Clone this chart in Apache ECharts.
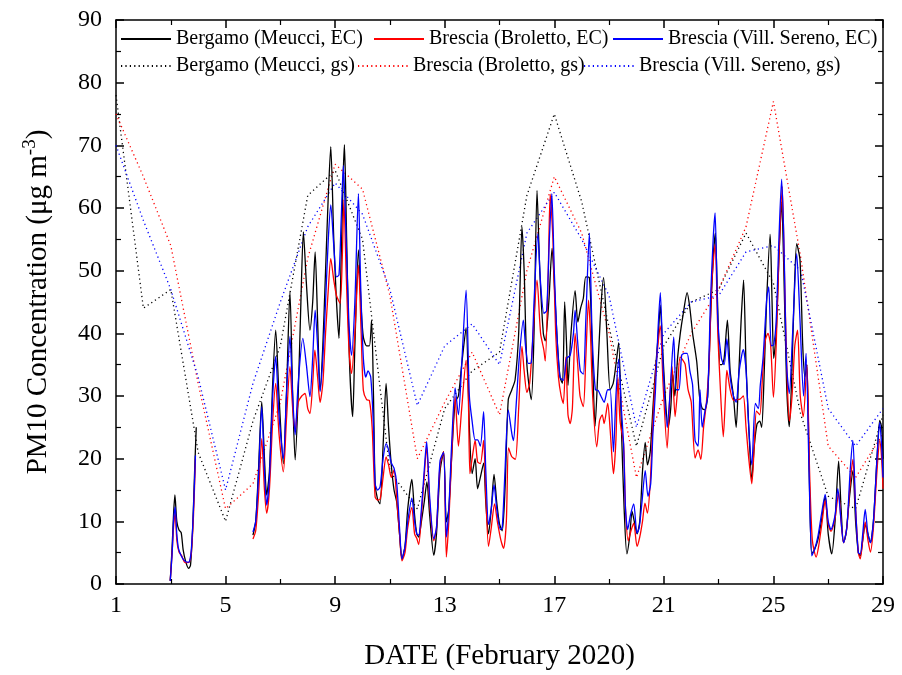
<!DOCTYPE html>
<html>
<head>
<meta charset="utf-8">
<script src="https://cdn.jsdelivr.net/npm/echarts@6/dist/echarts.min.js"></script>
<style>html,body{margin:0;padding:0;background:#fff}#c{width:902px;height:675px}</style>
</head>
<body>
<div id="c"></div>
<script>
// ---- data ----
const seriesNames = ['Bergamo (Meucci, EC)','Brescia (Broletto, EC)','Brescia (Vill. Sereno, EC)',
                     'Bergamo (Meucci, gs)','Brescia (Broletto, gs)','Brescia (Vill. Sereno, gs)'];
const xTicks = [1,5,9,13,17,21,25,29];
const yTicks = [0,10,20,30,40,50,60,70,80,90];

// daily gravimetric (gs) values, one per day 1..29
const gsDays = [1,2,3,4,5,6,7,8,9,10,11,12,13,14,15,16,17,18,19,20,21,22,23,24,25,26,27,28,29];
const gsBergamo = [78,44,47,21,10,26,38,62,66,55,18,12,28,34,37,62,75,61,41,22,38,45,47,56,48,27,14,12,27];
const gsBroletto = [75,65,54,32,12,16,29,52,67,63,46,20,29,37,27,50,65,56,40,17,30,40,47,57,77,52,22,17,24];
const gsSereno = [70,58,47,33,15,32,45,57,64,59,47,28.5,38,41.5,35,56,62.5,55,46,25,40,45,46,53,54,50,28,22,28];

// hourly EC-derived PM10 [day, value]
const ecBergamo = [[2.98,0.5],[3.05,6],[3.1,11],[3.15,14.2],[3.22,10],[3.3,8.6],[3.38,8.2],[3.45,5.5],[3.55,3.5],[3.65,2.5],[3.72,3],[3.8,9],[3.87,18],[3.93,25],[4.5,'-'],
[6.0,7.8],[6.1,10],[6.2,18],[6.32,29.1],[6.42,20],[6.5,14.2],[6.6,18],[6.72,32],[6.83,40.5],[6.95,30],[7.11,19.2],[7.22,30],[7.35,46.6],[7.45,30],[7.54,19.8],[7.65,30],[7.75,45],[7.84,56.2],[7.95,48],[8.08,40.5],[8.18,45],[8.27,53],[8.36,42],[8.45,30.9],[8.55,38],[8.65,50],[8.75,62],[8.84,69.8],[8.95,55],[9.05,45],[9.14,39.2],[9.22,52],[9.3,66],[9.34,70.1],[9.42,55],[9.52,36],[9.64,26.7],[9.72,38],[9.85,53.3],[9.95,44],[10.03,39.4],[10.15,38],[10.25,38],[10.33,42.1],[10.4,30],[10.46,16],[10.55,13.5],[10.64,12.8],[10.75,22],[10.86,32],[10.95,25],[11.05,19],[11.15,15],[11.25,13],[11.35,8],[11.44,4],[11.55,6],[11.65,12],[11.8,16.7],[11.9,11],[11.98,8],[12.05,7.5],[12.15,10],[12.25,13],[12.35,16.3],[12.45,11],[12.6,4.6],[12.7,8],[12.83,18],[12.96,21.1],[13.06,9.9],[13.15,12],[13.25,20],[13.38,29],[13.5,30],[13.62,35],[13.78,40.9],[13.9,25],[14.0,17.6],[14.11,20],[14.2,15.2],[14.3,17],[14.42,19.3],[14.5,13],[14.6,8],[14.7,12],[14.8,17.5],[14.9,13],[15.0,9.6],[15.1,8.5],[15.2,15],[15.32,29.4],[15.45,31],[15.57,32.6],[15.7,40],[15.82,57],[15.9,50],[16.0,35],[16.16,29.4],[16.26,40],[16.37,62.8],[16.47,50],[16.6,40],[16.67,38.8],[16.8,45],[16.92,53.6],[17.0,48],[17.1,39.4],[17.21,33],[17.3,32],[17.38,45],[17.45,38],[17.5,31.7],[17.6,39.4],[17.76,46.8],[17.86,41.8],[17.96,44],[18.06,45.6],[18.15,49],[18.28,48.9],[18.38,38],[18.49,25.2],[18.6,35],[18.7,44],[18.8,48.9],[18.92,40],[19.04,31],[19.15,32],[19.25,35],[19.35,38.5],[19.45,25],[19.55,12],[19.65,4.8],[19.75,7.5],[19.84,11.6],[19.92,10],[20.02,8],[20.12,10],[20.22,18],[20.32,22.6],[20.4,19],[20.5,21],[20.6,28],[20.69,34],[20.8,40],[20.87,44.5],[20.95,38],[21.05,30],[21.15,25],[21.25,28],[21.32,33.6],[21.4,30],[21.5,36],[21.6,40],[21.71,43.2],[21.85,46.5],[21.95,44],[22.05,40],[22.2,35.5],[22.3,30],[22.4,28],[22.5,27.8],[22.6,30],[22.7,42],[22.8,52],[22.88,56],[22.96,45],[23.05,35],[23.12,35],[23.2,36],[23.32,42.1],[23.42,34],[23.54,30],[23.64,25],[23.72,32],[23.82,42],[23.91,48.5],[24.0,35],[24.1,25],[24.21,16.7],[24.3,22],[24.4,25.5],[24.5,26],[24.57,25],[24.65,32],[24.75,45],[24.88,55.8],[24.95,45],[25.01,36],[25.1,40],[25.2,52],[25.3,61],[25.38,50],[25.48,32],[25.58,25.1],[25.66,32],[25.75,45],[25.85,54.3],[25.97,51.7],[26.07,38],[26.15,33],[26.22,35],[26.32,15],[26.4,4.8],[26.5,5.5],[26.62,7],[26.75,10],[26.89,14],[27.0,8],[27.13,4.8],[27.25,10],[27.38,19.6],[27.47,12],[27.56,6.6],[27.65,8],[27.78,14],[27.9,18.1],[28.0,10],[28.1,5],[28.17,4.5],[28.26,7],[28.35,9.5],[28.45,8],[28.54,6.6],[28.65,10],[28.78,20],[28.88,26.1],[28.95,25],[29.0,20]];

const ecBroletto = [[2.98,0.5],[3.05,5],[3.1,9],[3.16,11.3],[3.22,7],[3.3,5.1],[3.4,4.5],[3.5,3.5],[3.6,3.4],[3.68,3.5],[3.75,5],[3.83,11],[3.9,19.9],[4.5,'-'],
[6.0,7.2],[6.1,8.5],[6.2,14],[6.32,23.2],[6.42,15],[6.5,11.3],[6.6,15],[6.72,26],[6.83,32],[6.95,24],[7.11,17.9],[7.22,26],[7.35,34.7],[7.45,28],[7.54,24.3],[7.65,29],[7.78,30],[7.9,30.4],[8.0,28],[8.08,27.2],[8.18,32],[8.26,37.3],[8.36,33],[8.45,29],[8.55,32],[8.65,40],[8.75,47],[8.84,51.9],[8.95,48.5],[9.05,46],[9.18,44.8],[9.26,52],[9.32,61.3],[9.4,50],[9.5,38],[9.6,33.6],[9.72,40],[9.85,50.9],[9.95,40],[10.03,30.9],[10.15,29.4],[10.25,29.3],[10.35,25],[10.46,13.9],[10.55,13.4],[10.64,13.5],[10.75,17],[10.86,20.3],[10.95,19],[11.05,17],[11.15,18.2],[11.25,13.4],[11.35,8],[11.44,3.7],[11.55,5],[11.65,9],[11.8,12.2],[11.9,8],[11.98,7.3],[12.05,6.3],[12.15,11],[12.25,17],[12.34,21.9],[12.45,13],[12.6,6.9],[12.7,9],[12.83,19],[12.96,21.1],[13.06,4.3],[13.15,10],[13.25,20],[13.38,29.9],[13.5,22],[13.62,28],[13.78,35.7],[13.86,30],[13.92,17.6],[14.0,20],[14.11,22.9],[14.2,19.5],[14.3,19.2],[14.42,22.9],[14.5,14],[14.6,6],[14.7,9],[14.82,12.8],[14.92,10],[15.05,7],[15.15,5.7],[15.25,10],[15.33,21.7],[15.45,20.3],[15.58,19.9],[15.7,28],[15.82,37.9],[15.9,34],[16.0,30.6],[16.1,32],[16.2,38],[16.37,48.5],[16.5,40],[16.62,37.3],[16.67,35.6],[16.78,50],[16.85,62.2],[16.95,55],[17.05,40],[17.15,33.1],[17.25,30],[17.33,28.8],[17.42,36.2],[17.5,27],[17.58,25.6],[17.66,28],[17.76,40],[17.85,35.3],[17.94,30],[18.06,28.3],[18.15,36],[18.25,45.3],[18.32,40],[18.4,30],[18.55,21.9],[18.65,26],[18.75,27],[18.82,25.6],[18.95,28.8],[19.04,24.6],[19.16,17.6],[19.25,23],[19.32,33],[19.4,26],[19.53,22.3],[19.6,12],[19.7,6.9],[19.8,8.5],[19.9,9.7],[20.02,6],[20.12,7.5],[20.22,10],[20.31,12.9],[20.4,11.3],[20.5,16],[20.6,25.8],[20.72,35],[20.87,41.2],[20.97,32],[21.12,21.7],[21.22,30],[21.3,34.7],[21.41,26.7],[21.5,31],[21.59,36.2],[21.7,35.7],[21.78,35],[21.88,31.1],[22.0,29],[22.14,20.1],[22.25,21.4],[22.35,19.9],[22.45,25],[22.55,28.8],[22.65,35],[22.75,48],[22.87,54.2],[22.97,40],[23.05,32.3],[23.17,23.5],[23.25,30],[23.3,34.1],[23.42,31],[23.54,29.3],[23.64,29.4],[23.78,29.5],[23.9,30],[24.0,25],[24.1,20],[24.21,16],[24.3,22],[24.38,27.6],[24.5,27],[24.6,33],[24.7,38.8],[24.8,40],[24.9,38],[25.0,29.8],[25.1,38],[25.2,52],[25.32,63.4],[25.4,50],[25.5,33],[25.58,26],[25.68,30],[25.78,38],[25.88,40.5],[25.98,30],[26.09,26.7],[26.22,35],[26.32,18],[26.42,7],[26.56,4.3],[26.65,6],[26.78,10],[26.89,13.4],[27.0,9.5],[27.1,8.4],[27.25,10.5],[27.38,14.6],[27.47,10],[27.56,6.6],[27.68,9],[27.8,16],[27.9,19.9],[28.0,12],[28.1,5],[28.17,4],[28.26,7],[28.35,9.9],[28.45,7],[28.54,5.1],[28.65,9],[28.78,18],[28.88,22.9],[28.95,20],[29.0,15.2]];

const ecSereno = [[2.98,0.5],[3.05,5],[3.1,10],[3.16,12.3],[3.22,8],[3.28,5.7],[3.38,4.5],[3.48,3.8],[3.58,3.5],[3.66,3.5],[3.74,5],[3.82,11],[3.9,20.5],[4.5,'-'],
[6.0,8.3],[6.1,10],[6.2,17],[6.32,28.3],[6.42,18],[6.5,12.6],[6.6,17],[6.72,30],[6.83,36.3],[6.95,27],[7.11,20],[7.22,30],[7.35,39.5],[7.45,30],[7.54,23.8],[7.65,32],[7.82,39.2],[7.95,35],[8.08,29.9],[8.18,36],[8.27,43.7],[8.36,38],[8.45,30.7],[8.55,36],[8.65,45],[8.75,55],[8.84,60.5],[8.95,54],[9.05,49],[9.14,49.3],[9.22,58],[9.3,66.8],[9.38,58],[9.5,42],[9.6,36.5],[9.72,45],[9.85,62.3],[9.93,48],[10.03,36],[10.12,33],[10.2,34],[10.3,33],[10.4,25],[10.46,16],[10.55,15],[10.64,15.5],[10.75,20],[10.86,22.4],[10.95,21.4],[11.05,19.3],[11.15,18.5],[11.25,16],[11.35,9],[11.44,4],[11.55,6],[11.65,10],[11.8,13.7],[11.9,10],[11.98,8],[12.05,7.8],[12.15,12],[12.25,18],[12.34,22.7],[12.45,14],[12.6,7.2],[12.7,9],[12.83,19.7],[12.96,21],[13.06,7.5],[13.15,12],[13.25,22],[13.38,31.3],[13.5,27],[13.62,35],[13.78,46.9],[13.9,30],[14.0,26],[14.11,23],[14.2,23],[14.3,22],[14.42,27.5],[14.5,18],[14.6,9.5],[14.7,12],[14.8,15.8],[14.9,12],[15.03,8.7],[15.1,9],[15.2,18],[15.32,27.8],[15.45,24],[15.51,22.9],[15.6,28],[15.72,36],[15.87,42.1],[15.95,38],[16.05,35.2],[16.16,35.3],[16.26,45],[16.4,55.9],[16.5,48],[16.62,43.2],[16.72,43.6],[16.82,55],[16.91,62.3],[17.0,50],[17.1,39.4],[17.21,33],[17.33,32.5],[17.45,36],[17.58,36.5],[17.7,40],[17.76,43.7],[17.85,38.8],[17.95,34],[18.06,33.5],[18.15,42],[18.28,56],[18.38,40],[18.5,31],[18.6,30.9],[18.7,30],[18.82,29],[18.95,31],[19.04,31],[19.16,21.1],[19.25,30],[19.35,35.9],[19.45,28],[19.53,22.3],[19.6,12],[19.68,8.7],[19.78,11],[19.9,12.8],[20.02,8.1],[20.1,9],[20.2,13],[20.32,18.1],[20.42,14],[20.52,16],[20.6,24],[20.69,30.6],[20.78,40],[20.87,46.5],[20.97,35],[21.12,25],[21.22,30],[21.36,39.4],[21.45,31],[21.55,31],[21.65,36.5],[21.75,36.8],[21.85,36.8],[21.95,34],[22.05,31.7],[22.14,22.9],[22.25,22],[22.32,31],[22.4,25],[22.5,27.6],[22.6,30],[22.7,45],[22.8,55],[22.87,59.2],[22.97,42],[23.1,36],[23.2,35],[23.3,39.1],[23.42,33],[23.54,30],[23.64,29],[23.75,34],[23.9,37.4],[24.0,34.1],[24.1,25],[24.21,19],[24.34,28.8],[24.45,28],[24.52,31.7],[24.62,36],[24.76,45.8],[24.83,47.4],[24.92,38],[25.01,38.2],[25.1,42],[25.2,55],[25.3,64.6],[25.38,55],[25.48,35],[25.58,30.4],[25.7,40],[25.85,52.7],[25.97,42.1],[26.1,30],[26.19,36.8],[26.3,18],[26.4,4.5],[26.5,5.5],[26.62,7.5],[26.75,11],[26.89,14.3],[27.0,10],[27.1,8.7],[27.25,11],[27.35,15.2],[27.47,10],[27.56,6.6],[27.68,9],[27.8,18],[27.9,22.9],[28.0,12],[28.1,5],[28.17,4.8],[28.26,8],[28.35,11.9],[28.45,8],[28.54,6.6],[28.65,10],[28.78,20],[28.88,25.8],[28.95,22],[29.0,17]];

// ---- chart ----
const FONT = 'Liberation Serif';
const colors = ['#000000','#ff0000','#0000ff'];
const chart = echarts.init(document.getElementById('c'), null, {renderer:'canvas'});

function pairs(days, vals){ return days.map((d,i)=>[d, vals[i]]); }

const ecList = [ecBergamo, ecBroletto, ecSereno];
const gsList = [gsBergamo, gsBroletto, gsSereno];
const dotPattern = [1.2, 3.2];

const series = [];
gsList.forEach((v,i)=>{
  series.push({name: seriesNames[3+i], type:'line', data: pairs(gsDays, v), symbol:'none',
    lineStyle:{color:colors[i], width:1.3, type:dotPattern}, itemStyle:{color:colors[i]}, z:2, animation:false});
});
ecList.forEach((d,i)=>{
  series.push({name: seriesNames[i], type:'line', data: d, symbol:'none', smooth:0.25, connectNulls:false,
    lineStyle:{color:colors[i], width:1.3}, itemStyle:{color:colors[i]}, z:3+i, animation:false});
});

const legendPos = [[120,29],[373,29],[612,29],[120,56],[357,56],[583,56]];
const legends = seriesNames.map((n,i)=>({
  data:[n], left:legendPos[i][0], top:legendPos[i][1], padding:0, itemWidth:50, itemHeight:14, itemGap:0,
  itemStyle:{color:'rgba(0,0,0,0)', borderColor:'rgba(0,0,0,0)', borderWidth:0, opacity:0},
  textStyle:{fontFamily:FONT, fontSize:20, color:'#000'}, selectedMode:false
}));

const axisCommon = {
  type:'value', axisLine:{show:true, onZero:false, lineStyle:{color:'#000', width:1.5}},
  axisTick:{show:true, inside:true, length:8, lineStyle:{color:'#000', width:1.5}},
  minorTick:{show:true, splitNumber:2, length:5, lineStyle:{color:'#000', width:1.2}},
  splitLine:{show:false}, minorSplitLine:{show:false}
};

chart.setOption({
  backgroundColor:'#fff',
  animation:false,
  grid:{left:116, right:19, top:20, bottom:91, containLabel:false, outerBoundsMode:'none'},
  legend: legends,
  xAxis:[
    Object.assign({}, axisCommon, {position:'bottom', min:xTicks[0], max:xTicks[xTicks.length-1], interval:4,
      axisLabel:{fontFamily:FONT, fontSize:24, color:'#000', margin:10},
      name:'DATE (February 2020)', nameLocation:'middle', nameGap:58,
      nameTextStyle:{fontFamily:FONT, fontSize:29, color:'#000'}}),
    Object.assign({}, axisCommon, {position:'top', min:xTicks[0], max:xTicks[xTicks.length-1], interval:4,
      axisLabel:{show:false}})
  ],
  yAxis:[
    Object.assign({}, axisCommon, {position:'left', min:yTicks[0], max:yTicks[yTicks.length-1], interval:10,
      axisLabel:{fontFamily:FONT, fontSize:24, color:'#000', margin:14},
      name:'PM10 Concentration (μg m{sup|-3})', nameLocation:'middle', nameGap:60, nameRotate:90,
      nameTextStyle:{fontFamily:FONT, fontSize:29, color:'#000',
        rich:{sup:{fontFamily:FONT, fontSize:19, color:'#000', padding:[0,0,16,0]}}}}),
    Object.assign({}, axisCommon, {position:'right', min:yTicks[0], max:yTicks[yTicks.length-1], interval:10,
      axisLabel:{show:false}})
  ],
  series: series
});
</script>
</body>
</html>
